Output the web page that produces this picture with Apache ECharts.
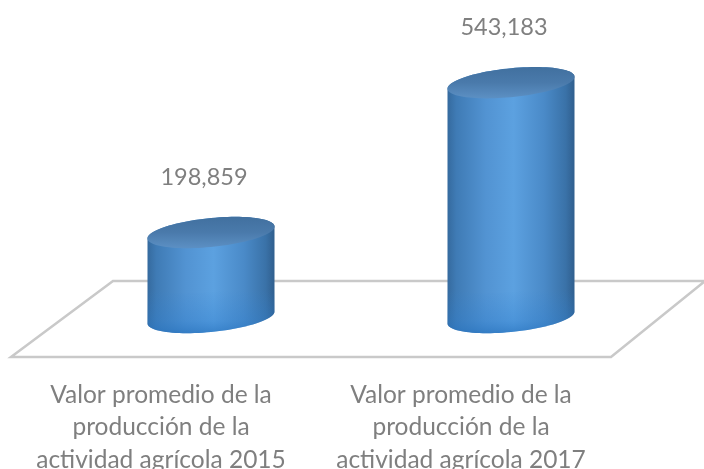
<!DOCTYPE html>
<html>
<head>
<meta charset="utf-8">
<style>html,body{margin:0;padding:0;background:#fff}#c{width:704px;height:469px}</style>
<script src="https://cdn.jsdelivr.net/npm/echarts@6/dist/echarts.min.js"></script>
</head>
<body>
<div id="c"></div>
<script>
const categories = [
  'Valor promedio de la\nproducción de la\nactividad agrícola 2015',
  'Valor promedio de la\nproducción de la\nactividad agrícola 2017'
];
const values = [198859, 543183];
const axisMax = 600000;

function grad(stops, horizontal) {
  return new echarts.graphic.LinearGradient(0, 0, horizontal ? 1 : 0, horizontal ? 0 : 1,
    stops.map(s => ({ offset: s[0], color: s[1] })));
}
const depthX = 50, halfW = 63.5, capH = 14.5, skew = 6;

function ellipsePts(cx, cy, from, to, n) {
  const pts = [];
  for (let i = 0; i <= n; i++) {
    const t = from + (to - from) * i / n;
    pts.push([cx + halfW * Math.cos(t), cy + capH * Math.sin(t) - skew * Math.cos(t)]);
  }
  return pts;
}

function renderBar(params, api) {
  const top = api.coord([api.value(0), api.value(1)]);
  const base = api.coord([api.value(0), 0]);
  const cx = top[0] + depthX;
  const baseY = base[1] - 1.5;
  const bodyPts = ellipsePts(cx, baseY, 0, Math.PI, 48)
    .concat(ellipsePts(cx, top[1], Math.PI, 2 * Math.PI, 48));
  const shade = ellipsePts(cx, baseY, 0, Math.PI, 48)
    .concat(ellipsePts(cx, baseY - 40, Math.PI, 0, 48));
  return {
    type: 'group',
    children: [
      { type: 'polygon', shape: { points: bodyPts }, style: { fill: grad([
        [0, '#356a9e'], [0.07, '#3f7bb5'], [0.3, '#5293d2'], [0.52, '#5ca1e0'],
        [0.76, '#4a8ac8'], [0.93, '#3a72a8'], [1, '#305f8e']
      ], true) } },
      { type: 'polygon', shape: { points: shade }, style: { fill: grad([
        [0.3, 'rgba(50,130,210,0)'], [0.8, 'rgba(45,125,205,0.35)'], [1, 'rgba(40,115,190,0.7)']
      ], false) } },
      { type: 'polygon', shape: { points: ellipsePts(cx, top[1], 0, 2 * Math.PI, 96) }, style: { fill: grad([
        [0, '#41709f'], [0.5, '#4a7aab'], [1, '#5c90c4']
      ], false) } },
      { type: 'text', x: cx - 7, y: top[1] - 55, style: {
        text: values[params.dataIndex].toLocaleString('en-US'),
        font: '23.5px Lato', fill: '#7f7f7f', align: 'center', verticalAlign: 'middle'
      } }
    ]
  };
}

function renderFloor(params, api) {
  const z = api.coord([0, 0]);
  const g = params.coordSys;
  return {
    type: 'polygon',
    shape: { points: [
      [g.x, z[1] + 38], [g.x + g.width, z[1] + 38],
      [g.x + g.width + 94, z[1] - 38], [g.x + 102, z[1] - 38]
    ] },
    style: { fill: 'none', stroke: '#c9c9c9', lineWidth: 2.5, lineJoin: 'miter' }
  };
}

const chart = echarts.init(document.getElementById('c'), null, { renderer: 'canvas' });
chart.setOption({
  animation: false,
  backgroundColor: '#fff',
  grid: { left: 11, right: 93, top: 58, height: 261, outerBoundsMode: 'none' },
  xAxis: {
    type: 'category', data: categories,
    axisLine: { show: false }, axisTick: { show: false },
    axisLabel: { interval: 0, margin: 59.5, color: '#7f7f7f', fontFamily: 'Lato', fontSize: 24.5, lineHeight: 32.5, align: 'center' }
  },
  yAxis: { type: 'value', min: 0, max: axisMax, show: false, splitLine: { show: false } },
  series: [
    { type: 'custom', coordinateSystem: 'cartesian2d', renderItem: renderFloor, z: 1, silent: true, data: [[0, 0]], encode: { x: 0, y: 1 }, clip: false },
    { type: 'custom', coordinateSystem: 'cartesian2d', renderItem: renderBar, z: 2, silent: true,
      data: values.map((v, i) => [i, v]), encode: { x: 0, y: 1 }, clip: false }
  ]
});
</script>
</body>
</html>
